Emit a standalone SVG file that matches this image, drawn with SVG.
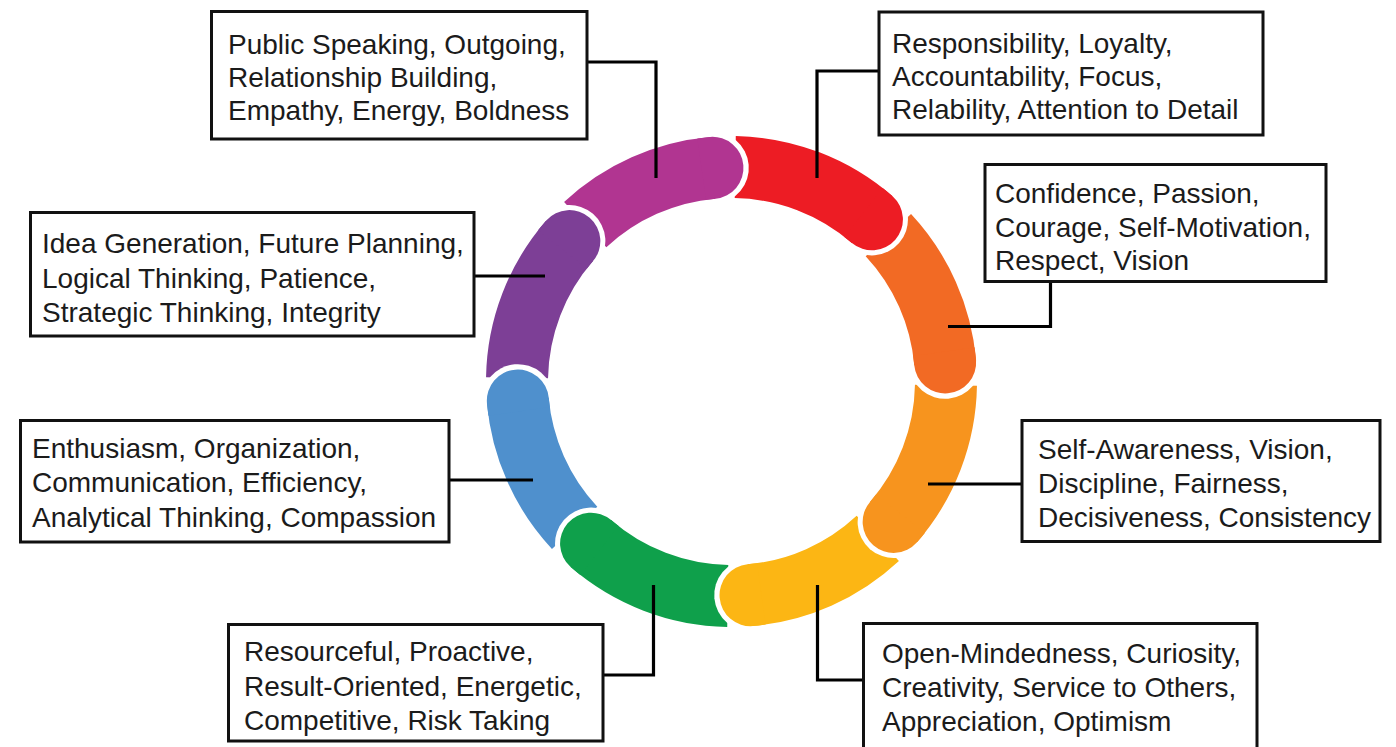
<svg xmlns="http://www.w3.org/2000/svg" width="1396" height="747" viewBox="0 0 1396 747">
<style>
.box{fill:#fff;stroke:#111;stroke-width:3}
.t{font-family:"Liberation Sans",Arial,sans-serif;font-size:28px;fill:#1b1b1b}
.cn{fill:none;stroke:#000;stroke-width:3.2}
.gap{fill:#fff}
.mag{fill:#B13591}.red{fill:#ED1C24}.ora{fill:#F26A24}.lor{fill:#F7941E}
.yel{fill:#FCB614}.grn{fill:#0FA04B}.blu{fill:#4F90CD}.vio{fill:#7D3F96}
</style>
<rect width="1396" height="747" fill="#fff"/>
<g id="ring">
<g id="bodies">
<path class="mag" d="M564.07 201.95 A245.5 245.5 0 0 1 710.10 136.94 L715.51 198.70 A183.5 183.5 0 0 0 606.35 247.30 Z"/>
<path class="red" d="M735.78 136.04 A245.5 245.5 0 0 1 892.56 196.22 L851.89 243.01 A183.5 183.5 0 0 0 734.70 198.03 Z"/>
<path class="ora" d="M911.05 214.07 A245.5 245.5 0 0 1 976.06 360.10 L914.30 365.51 A183.5 183.5 0 0 0 865.70 256.35 Z"/>
<path class="lor" d="M976.96 385.78 A245.5 245.5 0 0 1 916.78 542.56 L869.99 501.89 A183.5 183.5 0 0 0 914.97 384.70 Z"/>
<path class="yel" d="M898.93 561.05 A245.5 245.5 0 0 1 752.90 626.06 L747.49 564.30 A183.5 183.5 0 0 0 856.65 515.70 Z"/>
<path class="grn" d="M727.22 626.96 A245.5 245.5 0 0 1 570.44 566.78 L611.11 519.99 A183.5 183.5 0 0 0 728.30 564.97 Z"/>
<path class="blu" d="M551.95 548.93 A245.5 245.5 0 0 1 486.94 402.90 L548.70 397.49 A183.5 183.5 0 0 0 597.30 506.65 Z"/>
<path class="vio" d="M486.04 377.22 A245.5 245.5 0 0 1 546.22 220.44 L593.01 261.11 A183.5 183.5 0 0 0 548.03 378.30 Z"/>
</g>
<g id="caps">
<path class="gap" d="M709.67 131.95 A36 36 0 0 1 715.94 203.68 Z"/>
<path class="mag" d="M697.33 138.39 A245.5 245.5 0 0 1 710.10 136.94 A31 31 0 0 1 715.51 198.70 A183.5 183.5 0 0 0 705.96 199.79 Z"/>
<path class="gap" d="M895.84 192.44 A36 36 0 0 1 848.61 246.78 Z"/>
<path class="red" d="M882.64 188.04 A245.5 245.5 0 0 1 892.56 196.22 A31 31 0 0 1 851.89 243.01 A183.5 183.5 0 0 0 844.47 236.90 Z"/>
<path class="gap" d="M981.05 359.67 A36 36 0 0 1 909.32 365.94 Z"/>
<path class="ora" d="M974.61 347.33 A245.5 245.5 0 0 1 976.06 360.10 A31 31 0 0 1 914.30 365.51 A183.5 183.5 0 0 0 913.21 355.96 Z"/>
<path class="gap" d="M920.56 545.84 A36 36 0 0 1 866.22 498.61 Z"/>
<path class="lor" d="M924.96 532.64 A245.5 245.5 0 0 1 916.78 542.56 A31 31 0 0 1 869.99 501.89 A183.5 183.5 0 0 0 876.10 494.47 Z"/>
<path class="gap" d="M753.33 631.05 A36 36 0 0 1 747.06 559.32 Z"/>
<path class="yel" d="M765.67 624.61 A245.5 245.5 0 0 1 752.90 626.06 A31 31 0 0 1 747.49 564.30 A183.5 183.5 0 0 0 757.04 563.21 Z"/>
<path class="gap" d="M567.16 570.56 A36 36 0 0 1 614.39 516.22 Z"/>
<path class="grn" d="M580.36 574.96 A245.5 245.5 0 0 1 570.44 566.78 A31 31 0 0 1 611.11 519.99 A183.5 183.5 0 0 0 618.53 526.10 Z"/>
<path class="gap" d="M481.95 403.33 A36 36 0 0 1 553.68 397.06 Z"/>
<path class="blu" d="M488.39 415.67 A245.5 245.5 0 0 1 486.94 402.90 A31 31 0 0 1 548.70 397.49 A183.5 183.5 0 0 0 549.79 407.04 Z"/>
<path class="gap" d="M542.44 217.16 A36 36 0 0 1 596.78 264.39 Z"/>
<path class="vio" d="M538.04 230.36 A245.5 245.5 0 0 1 546.22 220.44 A31 31 0 0 1 593.01 261.11 A183.5 183.5 0 0 0 586.90 268.53 Z"/>
</g>
</g>
<g id="connectors">
<polyline class="cn" points="587,62 656,62 656,178"/>
<polyline class="cn" points="879,71 817,71 817,178"/>
<polyline class="cn" points="1050.5,281 1050.5,326.5 948,326.5"/>
<polyline class="cn" points="1022,484 928,484"/>
<polyline class="cn" points="863,680 817.5,680 817.5,585"/>
<polyline class="cn" points="603,675 653.5,675 653.5,585"/>
<polyline class="cn" points="449,480 533,480"/>
<polyline class="cn" points="474,276 545,276"/>
</g>
<g id="node-public">
<rect class="box" x="211.5" y="11.5" width="375.5" height="127.5"/>
<text class="t" x="228" y="54">Public Speaking, Outgoing,</text>
<text class="t" x="228" y="87">Relationship Building,</text>
<text class="t" x="228" y="120">Empathy, Energy, Boldness</text>
</g>
<g id="node-responsibility">
<rect class="box" x="879" y="12" width="384" height="123"/>
<text class="t" x="892" y="53">Responsibility, Loyalty,</text>
<text class="t" x="892" y="86">Accountability, Focus,</text>
<text class="t" x="892" y="119">Relability, Attention to Detail</text>
</g>
<g id="node-confidence">
<rect class="box" x="985" y="164.5" width="341" height="117"/>
<text class="t" x="995" y="203">Confidence, Passion,</text>
<text class="t" x="995" y="237">Courage, Self-Motivation,</text>
<text class="t" x="995" y="270">Respect, Vision</text>
</g>
<g id="node-selfawareness">
<rect class="box" x="1022" y="420.5" width="358" height="121"/>
<text class="t" x="1038" y="459">Self-Awareness, Vision,</text>
<text class="t" x="1038" y="493">Discipline, Fairness,</text>
<text class="t" x="1038" y="527">Decisiveness, Consistency</text>
</g>
<g id="node-openmindedness">
<rect class="box" x="863.5" y="623.5" width="393.5" height="130"/>
<text class="t" x="882" y="663">Open-Mindedness, Curiosity,</text>
<text class="t" x="882" y="697">Creativity, Service to Others,</text>
<text class="t" x="882" y="731">Appreciation, Optimism</text>
</g>
<g id="node-resourceful">
<rect class="box" x="228.5" y="624.5" width="374.5" height="116.5"/>
<text class="t" x="244" y="661">Resourceful, Proactive,</text>
<text class="t" x="244" y="696">Result-Oriented, Energetic,</text>
<text class="t" x="244" y="730">Competitive, Risk Taking</text>
</g>
<g id="node-enthusiasm">
<rect class="box" x="20.5" y="420.5" width="428.5" height="121.5"/>
<text class="t" x="32" y="458">Enthusiasm, Organization,</text>
<text class="t" x="32" y="492">Communication, Efficiency,</text>
<text class="t" x="32" y="527">Analytical Thinking, Compassion</text>
</g>
<g id="node-idea">
<rect class="box" x="30.5" y="212.5" width="443.5" height="123.5"/>
<text class="t" x="42" y="253">Idea Generation, Future Planning,</text>
<text class="t" x="42" y="288">Logical Thinking, Patience,</text>
<text class="t" x="42" y="322">Strategic Thinking, Integrity</text>
</g>
</svg>
